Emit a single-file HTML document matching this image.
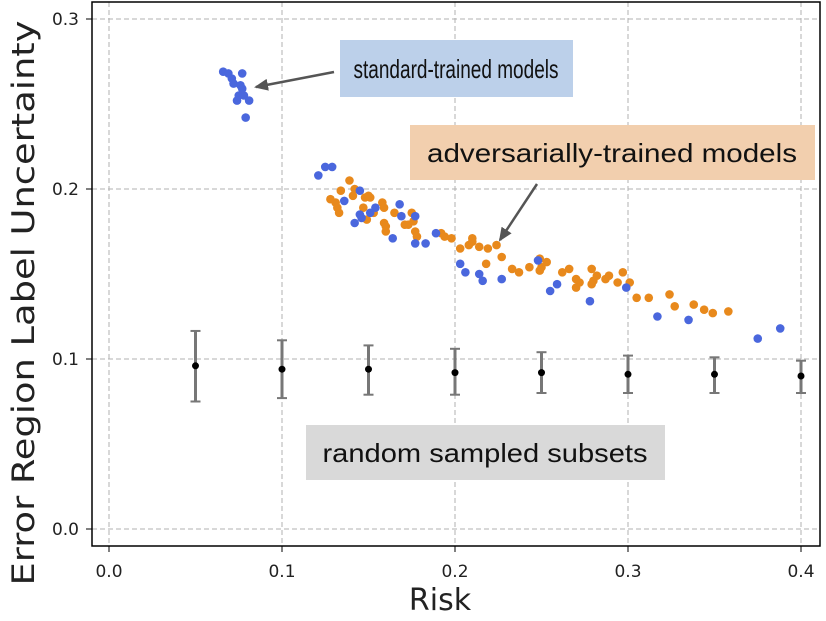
<!DOCTYPE html>
<html><head><meta charset="utf-8"><style>
body{margin:0;background:#fff}
svg text{font-family:"DejaVu Sans","Liberation Sans",sans-serif}
</style></head><body>
<svg id="chart" width="826" height="616">
<defs><marker id="ah" markerUnits="userSpaceOnUse" markerWidth="14" markerHeight="12" refX="12" refY="6" orient="auto"><path d="M0,0 L14,6 L0,12 z" fill="#555"/></marker></defs>
<g id="grid"></g><g id="marks"></g><g id="axes"></g>
</svg>
<script>
const blueX=[0.066,0.071,0.077,0.072,0.076,0.077,0.075,0.078,0.074,0.081,0.079,0.069,0.121,0.125,0.129,0.136,0.145,0.142,0.145,0.146,0.151,0.154,0.168,0.169,0.177,0.164,0.177,0.183,0.189,0.203,0.206,0.214,0.216,0.227,0.248,0.255,0.259,0.278,0.299,0.317,0.335,0.375,0.388];
const blueY=[0.269,0.265,0.268,0.262,0.261,0.259,0.255,0.255,0.252,0.252,0.242,0.268,0.208,0.213,0.213,0.193,0.199,0.180,0.185,0.183,0.186,0.189,0.191,0.184,0.184,0.171,0.168,0.168,0.174,0.156,0.151,0.150,0.146,0.147,0.158,0.140,0.144,0.134,0.142,0.125,0.123,0.112,0.118];
const orangeX=[0.139,0.134,0.142,0.141,0.128,0.131,0.132,0.133,0.148,0.150,0.151,0.147,0.149,0.153,0.158,0.159,0.159,0.160,0.160,0.165,0.175,0.171,0.173,0.176,0.177,0.178,0.192,0.194,0.198,0.203,0.208,0.210,0.210,0.214,0.219,0.224,0.227,0.218,0.233,0.237,0.243,0.249,0.253,0.250,0.249,0.262,0.266,0.270,0.272,0.270,0.279,0.282,0.280,0.279,0.287,0.289,0.294,0.297,0.301,0.305,0.312,0.324,0.327,0.338,0.344,0.349,0.358];
const orangeY=[0.205,0.199,0.200,0.196,0.194,0.192,0.189,0.186,0.195,0.196,0.195,0.189,0.182,0.186,0.192,0.189,0.180,0.178,0.175,0.186,0.186,0.179,0.179,0.181,0.175,0.172,0.174,0.172,0.171,0.165,0.167,0.171,0.169,0.166,0.165,0.167,0.160,0.156,0.153,0.151,0.154,0.159,0.157,0.154,0.152,0.151,0.153,0.147,0.145,0.142,0.153,0.149,0.146,0.144,0.147,0.149,0.145,0.151,0.145,0.136,0.136,0.138,0.131,0.132,0.129,0.127,0.128];
const randX=[0.05,0.10,0.15,0.20,0.25,0.30,0.35,0.40];
const randMean=[0.096,0.094,0.094,0.092,0.092,0.091,0.091,0.090];
const randLow=[0.075,0.077,0.079,0.079,0.080,0.080,0.080,0.080];
const randHigh=[0.1165,0.111,0.108,0.106,0.104,0.102,0.101,0.099];
const xTicks=[0.0,0.1,0.2,0.3,0.4];
const yTicks=[0.0,0.1,0.2,0.3];
const X=v=>109+v*1730, Y=v=>529-v*1700;
const NS="http://www.w3.org/2000/svg";
function mk(parent,tag,attrs){const e=document.createElementNS(NS,tag);for(const k in attrs)e.setAttribute(k,attrs[k]);document.getElementById(parent).appendChild(e);return e;}
xTicks.forEach(t=>{
 const g=mk('grid','line',{x1:X(t),x2:X(t),y1:2,y2:546,stroke:'#b0b0b0','stroke-dasharray':'5,3','stroke-width':1});
 
 
 mk('axes','line',{x1:X(t),x2:X(t),y1:546,y2:552,stroke:'#000'});
 const l=mk('axes','text',{x:X(t),y:577,'text-anchor':'middle',style:'font-size:17px',fill:'#222'});l.textContent=t.toFixed(1);
 
 
});
yTicks.forEach(t=>{
 const g=mk('grid','line',{x1:92,x2:820,y1:Y(t),y2:Y(t),stroke:'#b0b0b0','stroke-dasharray':'5,3','stroke-width':1});
 
 
 mk('axes','line',{x1:86,x2:92,y1:Y(t),y2:Y(t),stroke:'#000'});
 const l=mk('axes','text',{x:79,y:Y(t)+6,'text-anchor':'end',style:'font-size:17px',fill:'#222'});l.textContent=t.toFixed(1);
 
 
});
orangeX.forEach((x,i)=>{const c=mk('marks','circle',{cx:X(x),cy:Y(orangeY[i]),r:4.3,fill:'#e8891c'});
 
 });
blueX.forEach((x,i)=>{const c=mk('marks','circle',{cx:X(x),cy:Y(blueY[i]),r:4.3,fill:'#4a67dd'});
 
 });
randX.forEach((x,i)=>{
 const b=mk('marks','line',{x1:X(x),x2:X(x),y1:Y(randLow[i]),y2:Y(randHigh[i]),stroke:'#777','stroke-width':3});
 
 
 mk('marks','line',{x1:X(x)-5,x2:X(x)+5,y1:Y(randLow[i]),y2:Y(randLow[i]),stroke:'#777','stroke-width':2});
 mk('marks','line',{x1:X(x)-5,x2:X(x)+5,y1:Y(randHigh[i]),y2:Y(randHigh[i]),stroke:'#777','stroke-width':2});
 const c=mk('marks','circle',{cx:X(x),cy:Y(randMean[i]),r:3.5,fill:'#000'});
 
 
});
</script>
<svg width="826" height="616" style="position:absolute;left:0;top:0">
<rect x="92" y="2" width="728" height="544" fill="none" stroke="#000" stroke-width="1.5"/>
<text x="440" y="610" text-anchor="middle" style="font-size:30px;font-family:'DejaVu Sans',sans-serif" fill="#222">Risk</text>
<text transform="translate(34,303) rotate(-90)" text-anchor="middle" style="font-size:31px;font-family:'DejaVu Sans',sans-serif" textLength="565" lengthAdjust="spacingAndGlyphs" fill="#222">Error Region Label Uncertainty</text>
<rect x="340" y="40" width="233" height="57" fill="#bcd0ea"/>
<text x="456" y="78" text-anchor="middle" style="font-size:26px;font-family:'Liberation Sans',sans-serif" textLength="205" lengthAdjust="spacingAndGlyphs" fill="#111">standard-trained models</text>
<rect x="410" y="125" width="405" height="55" fill="#f2cfae"/>
<text x="612" y="162" text-anchor="middle" style="font-size:26px;font-family:'Liberation Sans',sans-serif" textLength="370" lengthAdjust="spacingAndGlyphs" fill="#111">adversarially-trained models</text>
<rect x="306" y="425" width="359" height="55" fill="#d9d9d9"/>
<text x="485" y="462" text-anchor="middle" style="font-size:26px;font-family:'Liberation Sans',sans-serif" textLength="325" lengthAdjust="spacingAndGlyphs" fill="#111">random sampled subsets</text>
<line x1="334" y1="72" x2="256" y2="87" stroke="#555" stroke-width="2.5" marker-end="url(#ah)"/>
<line x1="537" y1="184" x2="500" y2="240" stroke="#555" stroke-width="2.5" marker-end="url(#ah)"/>
</svg>
</body></html>
